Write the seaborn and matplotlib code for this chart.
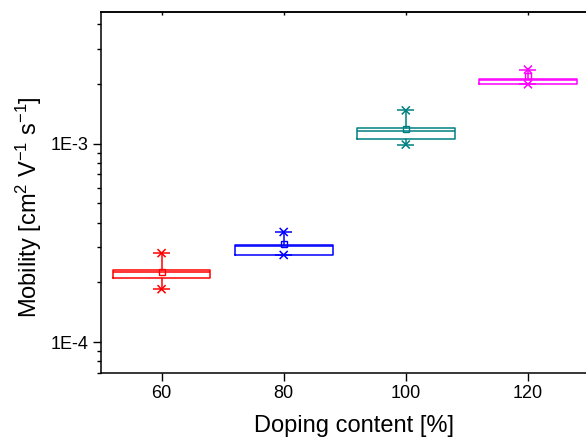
import numpy as np
import matplotlib
matplotlib.use("Agg")
import matplotlib.pyplot as plt
import matplotlib.ticker as mticker
import seaborn as sns
import pandas as pd

# ---- data ----
doping = [60, 80, 100, 120]
q1 = [2.11e-4, 2.75e-4, 1.054e-3, 1.99e-3]
median = [2.25e-4, 3.05e-4, 1.163e-3, 2.09e-3]
q3 = [2.31e-4, 3.09e-4, 1.205e-3, 2.12e-3]
mean = [2.26e-4, 3.12e-4, 1.18e-3, 2.18e-3]
vmin = [1.85e-4, 2.75e-4, 0.989e-3, 1.99e-3]
vmax = [2.81e-4, 3.59e-4, 1.47e-3, 2.36e-3]
colors = ["#FF0000", "#0000FF", "#008080", "#FF00FF"]
xticks = [60, 80, 100, 120]
yticks = [1e-4, 1e-3]
yticklabels = ["1E-4", "1E-3"]

sns.set_style("ticks")
plt.rcParams["font.family"] = ["Liberation Sans", "DejaVu Sans"]
plt.rcParams["mathtext.fontset"] = "custom"
plt.rcParams["mathtext.rm"] = "Liberation Sans"
plt.rcParams["mathtext.it"] = "Liberation Sans:italic"
plt.rcParams["mathtext.bf"] = "Liberation Sans:bold"
for k in ["text.color", "axes.labelcolor", "xtick.color", "ytick.color",
          "axes.edgecolor"]:
    plt.rcParams[k] = "black"

fig = plt.figure(figsize=(5.86, 4.45), dpi=100)
W, H = 586, 445
ax = fig.add_axes([100.5 / W, 1 - 373 / H, (589 - 100.5) / W, (373 - 12) / H])

# boxes
for i in range(len(doping)):
    st = dict(med=median[i], q1=q1[i], q3=q3[i], whislo=vmin[i],
              whishi=vmax[i], mean=mean[i], fliers=[], label=str(doping[i]))
    c = colors[i]
    ax.bxp([st], positions=[doping[i]], widths=16, showcaps=False,
           showfliers=False, showmeans=False, manage_ticks=False,
           boxprops=dict(color=c, linewidth=1.1),
           whiskerprops=dict(color=c, linewidth=1.1),
           medianprops=dict(color=c, linewidth=1.1))

# min / max markers (asterisk-like: x + dash)
df = pd.DataFrame({
    "x": doping * 2,
    "y": vmin + vmax,
    "g": [str(d) for d in doping] * 2,
})
pal = {str(d): c for d, c in zip(doping, colors)}
sns.scatterplot(data=df, x="x", y="y", hue="g", palette=pal, marker="x",
                s=34, linewidth=1.1, legend=False, ax=ax, zorder=5)
sns.scatterplot(data=df, x="x", y="y", hue="g", palette=pal, marker="_",
                s=150, linewidth=1.1, legend=False, ax=ax, zorder=5)

# mean squares
for i in range(len(doping)):
    ax.plot([doping[i]], [mean[i]], "s", mfc="none", mec=colors[i], ms=4.8,
            mew=1.0, zorder=6)

ax.set_yscale("log")
ax.set_xlim(50, 130)
ax.set_ylim(7e-5, 4.6e-3)
ax.set_xticks(xticks)
ax.set_xticklabels([str(t) for t in xticks])
ax.yaxis.set_major_locator(mticker.FixedLocator(yticks))
ax.yaxis.set_major_formatter(mticker.FixedFormatter(yticklabels))
ax.yaxis.set_minor_locator(mticker.LogLocator(base=10, subs=np.arange(2, 10)))
ax.yaxis.set_minor_formatter(mticker.NullFormatter())

for s in ["left", "bottom", "top", "right"]:
    ax.spines[s].set_linewidth(1.1)
    ax.spines[s].set_color("black")

ax.tick_params(axis="both", which="major", direction="out", length=5.5,
               width=1.0, labelsize=13, pad=3, colors="black")
ax.tick_params(axis="y", which="minor", direction="out", length=3,
               width=1.0)
ax.tick_params(axis="x", which="minor", bottom=False)

sec = ax.secondary_xaxis("top")
sec.set_xticks(xticks)
sec.tick_params(direction="in", length=2, labeltop=False, width=1.0)
sec.spines["top"].set_linewidth(1.1)

ax.set_xlabel("Doping content [%]", fontsize=17)
ax.xaxis.set_label_coords((354 - 100.5) / 488.5, -(415 - 373) / 361)
ax.set_ylabel(r"Mobility [cm$^{2}$ V$^{-1}$ s$^{-1}$]", fontsize=17)
ax.yaxis.set_label_coords((44 - 100.5) / 488.5, (373 - 207) / 361)

fig.savefig("out.png", dpi=100)
